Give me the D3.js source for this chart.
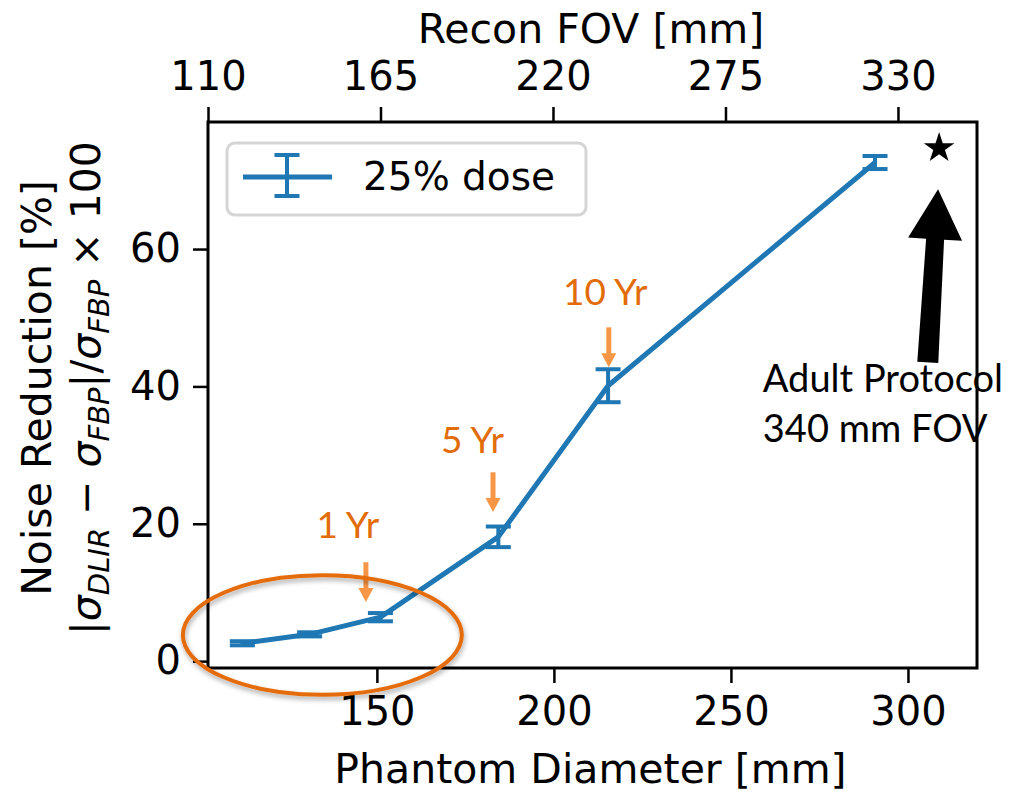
<!DOCTYPE html>
<html lang="en">
<head>
    <meta charset="UTF-8">
    <title>Noise Reduction</title>
    <style>
        body{
            margin: 0;
            background: white;
        }
        .tick text{
            font-family: "DejaVu Sans", sans-serif;
            font-size: 40px;
            fill: black;
        }
        .label{
            font-family: "DejaVu Sans", sans-serif;
            font-size: 41px;
            text-anchor: middle;
        }
        .note{
            font-family: Lato, "Open Sans", sans-serif;
            font-size: 37px;
        }
        .adult{
            font-family: Lato, "Open Sans", sans-serif;
            font-size: 38px;
        }
        .legend{
            font-family: "DejaVu Sans", sans-serif;
            font-size: 39px;
        }
    </style>
    <script src="https://d3js.org/d3.v7.min.js"></script>
</head>
<body>
<svg width="1012" height="792" id="figure"></svg>
<script>
    // measured series
    let diameter = [112, 131, 151, 184.3, 215.3, 290.7]
    let reduction = [2.6, 3.9, 6.4, 18.1, 40.1, 72.6]
    let errors = [0.3, 0.3, 0.6, 1.5, 2.4, 0.95]
    let seriesName = "25% dose"

    // adult protocol marker
    let adultPoint = [308.8, 74.7]
    let adultArrow = {from: [305.6, 43.5], to: [308.5, 68.7]}
    let adultText = ["Adult Protocol", "340 mm FOV"]

    // age annotations
    let ages = ["1 Yr", "5 Yr", "10 Yr"]
    let ageTextX = [141.8, 177.0, 214.5]
    let ageTextY = [17.9, 30.3, 51.8]
    let ageArrowX = [146.9, 182.8, 215.5]
    let ageArrowTop = [14.4, 27.5, 48.6]
    let ageArrowTip = [8.6, 21.7, 42.8]

    // highlight ellipse (data units)
    let ellipseCenter = [134.6, 3.8]
    let ellipseRadius = [39.4, 8.7]

    // ticks
    let bottomTicks = [150, 200, 250, 300]
    let leftTicks = [0, 20, 40, 60]
    let topTicks = [110, 165, 220, 275, 330]

    let blue = "#1f77b4"
    let orangeText = "#e36c0a"
    let orangeArrow = "#f79646"

    let pLeft = 208, pRight = 977, pTop = 122, pBottom = 668

    let xScale = d3.scaleLinear().domain([102.3, 319.5]).range([pLeft, pRight])
    let yScale = d3.scaleLinear().domain([-1.0, 78.5]).range([pBottom, pTop])
    let topScale = d3.scaleLinear().domain([110, 355.2]).range([pLeft, pRight])

    let svg = d3.select("#figure")

    let defs = svg.append("defs")
    let shadow = defs.append("filter").attr("id", "shadow")
        .attr("x", "-20%").attr("y", "-20%").attr("width", "140%").attr("height", "150%")
    shadow.append("feDropShadow")
        .attr("dx", 1).attr("dy", 3).attr("stdDeviation", 2.5)
        .attr("flood-color", "#000").attr("flood-opacity", 0.35)

    // axes
    let styleAxis = function (g) {
        g.select(".domain").remove()
        g.selectAll(".tick line").attr("stroke", "black").attr("stroke-width", 2.5)
    }

    svg.append("g")
        .attr("transform", `translate(0,${pBottom})`)
        .call(d3.axisBottom(xScale).tickValues(bottomTicks).tickSize(15).tickPadding(14))
        .call(styleAxis)

    svg.append("g")
        .attr("transform", `translate(${pLeft},0)`)
        .call(d3.axisLeft(yScale).tickValues(leftTicks).tickSize(15).tickPadding(12))
        .call(styleAxis)

    svg.append("g")
        .attr("transform", `translate(0,${pTop})`)
        .call(d3.axisTop(topScale).tickValues(topTicks).tickSize(15).tickPadding(17))
        .call(styleAxis)

    // frame
    svg.append("rect")
        .attr("x", pLeft).attr("y", pTop)
        .attr("width", pRight - pLeft).attr("height", pBottom - pTop)
        .attr("fill", "none").attr("stroke", "black").attr("stroke-width", 3)

    // axis labels
    svg.append("text").attr("class", "label")
        .attr("x", (pLeft + pRight) / 2 - 2).attr("y", 783)
        .text("Phantom Diameter [mm]")

    svg.append("text").attr("class", "label")
        .attr("x", 591).attr("y", 43)
        .text("Recon FOV [mm]")

    svg.append("text").attr("class", "label")
        .attr("transform", `translate(51,388) rotate(-90)`)
        .text("Noise Reduction [%]")

    let math = svg.append("text").attr("class", "label")
        .attr("transform", `translate(100,388) rotate(-90)`)
    let parts = [
        {t: "|", it: false, sub: false},
        {t: "σ", it: true, sub: false},
        {t: "DLIR", it: true, sub: true},
        {t: " − ", it: false, sub: false},
        {t: "σ", it: true, sub: false},
        {t: "FBP", it: true, sub: true},
        {t: "|/", it: false, sub: false},
        {t: "σ", it: true, sub: false},
        {t: "FBP", it: true, sub: true},
        {t: " × 100", it: false, sub: false}
    ]
    let wasSub = false
    parts.forEach(function (p) {
        let shift = 0
        if (p.sub && !wasSub) shift = 9
        if (!p.sub && wasSub) shift = -9
        math.append("tspan")
            .attr("dy", shift)
            .attr("font-style", p.it ? "italic" : "normal")
            .attr("font-size", p.sub ? "29px" : "41px")
            .text(p.t)
        wasSub = p.sub
    })

    // data line
    let line = d3.line()
        .x(function (d) { return xScale(d[0]) })
        .y(function (d) { return yScale(d[1]) })
    let points = d3.zip(diameter, reduction, errors)

    svg.append("path")
        .datum(points)
        .attr("d", line)
        .attr("fill", "none")
        .attr("stroke", blue)
        .attr("stroke-width", 5)
        .attr("stroke-linejoin", "round")

    // error bars
    let bars = svg.append("g").attr("stroke", blue)
    points.forEach(function (d) {
        let cx = xScale(d[0])
        let y0 = yScale(d[1] - d[2]), y1 = yScale(d[1] + d[2])
        bars.append("line").attr("x1", cx).attr("x2", cx)
            .attr("y1", y0).attr("y2", y1).attr("stroke-width", 4)
        ;[y0, y1].forEach(function (yy) {
            bars.append("line").attr("x1", cx - 12.5).attr("x2", cx + 12.5)
                .attr("y1", yy).attr("y2", yy).attr("stroke-width", 4)
        })
    })

    // star for adult protocol
    svg.append("path")
        .attr("d", d3.symbol().type(d3.symbolStar).size(290)())
        .attr("transform", `translate(${xScale(adultPoint[0])},${yScale(adultPoint[1])})`)
        .attr("fill", "black")

    // big black arrow
    let ax0 = xScale(adultArrow.from[0]), ay0 = yScale(adultArrow.from[1])
    let ax1 = xScale(adultArrow.to[0]), ay1 = yScale(adultArrow.to[1])
    let len = Math.hypot(ax1 - ax0, ay1 - ay0)
    let ux = (ax1 - ax0) / len, uy = (ay1 - ay0) / len
    let nx = -uy, ny = ux
    let headLen = 50, headHalf = 27, tailHalf = 10.5, neckHalf = 9
    let bx = ax1 - ux * headLen, by = ay1 - uy * headLen
    let arrowPts = [
        [ax0 + nx * tailHalf, ay0 + ny * tailHalf],
        [bx + nx * neckHalf, by + ny * neckHalf],
        [bx + nx * headHalf, by + ny * headHalf],
        [ax1, ay1],
        [bx - nx * headHalf, by - ny * headHalf],
        [bx - nx * neckHalf, by - ny * neckHalf],
        [ax0 - nx * tailHalf, ay0 - ny * tailHalf]
    ]
    svg.append("path")
        .attr("d", "M" + arrowPts.map(function (p) { return p.join(",") }).join("L") + "Z")
        .attr("fill", "black")

    adultText.forEach(function (t, i) {
        svg.append("text").attr("class", "adult")
            .attr("x", xScale(259.0)).attr("y", yScale(39.2) + i * 50)
            .attr("fill", "black")
            .text(t)
    })

    // age arrows and text
    ages.forEach(function (a, i) {
        let x = xScale(ageArrowX[i])
        let yTop = yScale(ageArrowTop[i]), yTip = yScale(ageArrowTip[i])
        svg.append("line")
            .attr("x1", x).attr("x2", x)
            .attr("y1", yTop).attr("y2", yTip - 12)
            .attr("stroke", orangeArrow).attr("stroke-width", 5)
        svg.append("path")
            .attr("d", `M${x - 7.5},${yTip - 14}L${x + 7.5},${yTip - 14}L${x},${yTip}Z`)
            .attr("fill", orangeArrow)
        svg.append("text").attr("class", "note")
            .attr("x", xScale(ageTextX[i])).attr("y", yScale(ageTextY[i]))
            .attr("text-anchor", "middle")
            .attr("fill", orangeText)
            .text(a)
    })

    // legend
    let lg = svg.append("g")
    lg.append("rect")
        .attr("x", 227).attr("y", 143).attr("width", 359).attr("height", 72)
        .attr("rx", 8).attr("fill", "white").attr("fill-opacity", 0.8)
        .attr("stroke", "#d5d5d5").attr("stroke-width", 3)
    lg.append("line").attr("x1", 243).attr("x2", 332).attr("y1", 177).attr("y2", 177)
        .attr("stroke", blue).attr("stroke-width", 5)
    lg.append("line").attr("x1", 287).attr("x2", 287).attr("y1", 155).attr("y2", 196)
        .attr("stroke", blue).attr("stroke-width", 4)
    ;[155, 196].forEach(function (yy) {
        lg.append("line").attr("x1", 274.5).attr("x2", 299.5).attr("y1", yy).attr("y2", yy)
            .attr("stroke", blue).attr("stroke-width", 4)
    })
    lg.append("text").attr("class", "legend")
        .attr("x", 363).attr("y", 190)
        .text(seriesName)

    // highlight ellipse
    svg.append("ellipse")
        .attr("cx", xScale(ellipseCenter[0])).attr("cy", yScale(ellipseCenter[1]))
        .attr("rx", xScale(ellipseCenter[0] + ellipseRadius[0]) - xScale(ellipseCenter[0]))
        .attr("ry", yScale(ellipseCenter[1] - ellipseRadius[1]) - yScale(ellipseCenter[1]))
        .attr("fill", "none")
        .attr("stroke", "#e46c0a")
        .attr("stroke-width", 4)
        .attr("filter", "url(#shadow)")
</script>
</body>
</html>
